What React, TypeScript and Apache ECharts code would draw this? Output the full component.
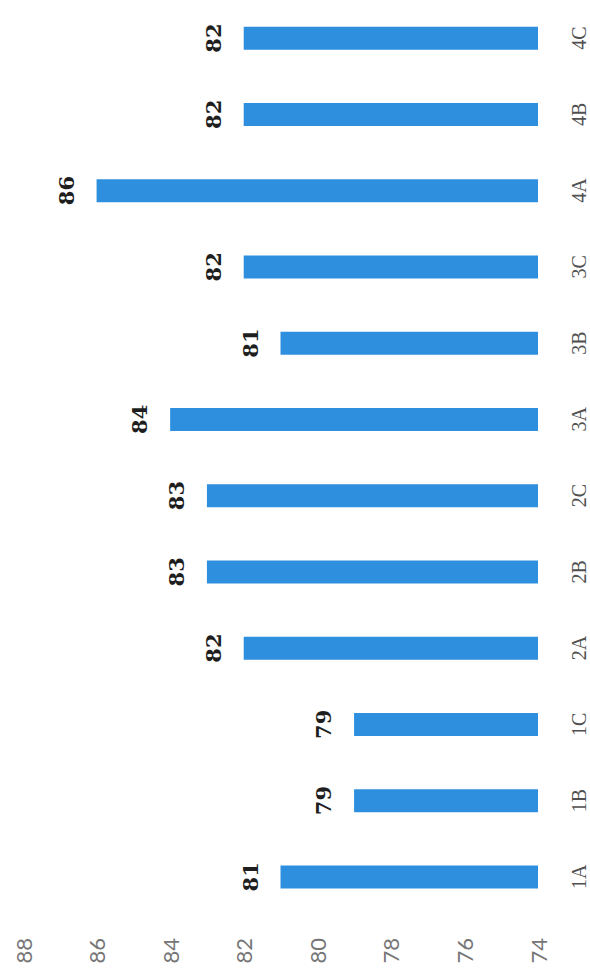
import React, { useEffect, useRef } from "react";
import * as echarts from "echarts";

const categories = ["1A", "1B", "1C", "2A", "2B", "2C", "3A", "3B", "3C", "4A", "4B", "4C"];
const values = [81, 79, 79, 82, 83, 83, 84, 81, 82, 86, 82, 82];
const axisMin = 74;
const axisMax = 88;
const axisInterval = 2;

export default function App() {
  const ref = useRef<HTMLDivElement>(null);
  useEffect(() => {
    if (!ref.current) return;
    const chart = echarts.init(ref.current, undefined, { renderer: "svg" });
    chart.setOption({
      animation: false,
      backgroundColor: "#ffffff",
      grid: { left: 23, right: 52, top: -16, bottom: 61, containLabel: false },
      xAxis: {
        type: "value",
        inverse: true,
        min: axisMin,
        max: axisMax,
        interval: axisInterval,
        position: "bottom",
        axisLine: { show: false },
        axisTick: { show: false },
        splitLine: { show: false },
        axisLabel: {
          rotate: 90,
          margin: 23,
          color: "#767676",
          fontFamily: "Lato",
          fontSize: 22,
        },
      },
      yAxis: {
        type: "category",
        data: categories,
        position: "right",
        axisLine: { show: false },
        axisTick: { show: false },
        splitLine: { show: false },
        axisLabel: {
          rotate: 90,
          margin: 31,
          color: "#505050",
          fontFamily: "Liberation Serif",
          fontSize: 20,
          align: "center",
          verticalAlign: "top",
        },
      },
      series: [
        {
          type: "bar",
          data: values,
          barWidth: 23,
          itemStyle: { color: "#2e8fdf" },
          label: {
            show: true,
            position: "left",
            rotate: 90,
            distance: 20,
            color: "#1e1e1e",
            fontFamily: "DejaVu Serif",
            fontWeight: "bold",
            fontSize: 21,
            align: "center",
            verticalAlign: "bottom",
          },
        },
      ],
    });
    return () => chart.dispose();
  }, []);
  return (
    <div
      ref={ref}
      style={{ position: "fixed", left: 0, top: 0, width: 590, height: 976 }}
    />
  );
}
